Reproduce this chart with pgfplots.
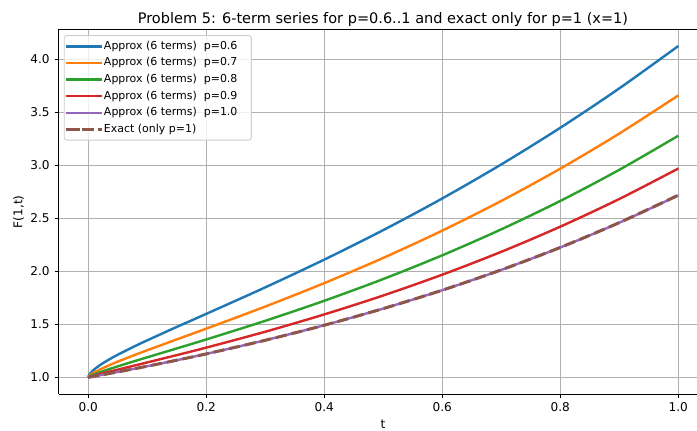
\documentclass[border=0pt]{standalone}
\usepackage{fontspec}
\setmainfont{DejaVu Sans}
\usepackage{pgfplots}
\pgfplotsset{compat=1.18}
\usepackage{pgfplotstable}
\definecolor{c0}{HTML}{1F77B4}
\definecolor{c1}{HTML}{FF7F0E}
\definecolor{c2}{HTML}{2CA02C}
\definecolor{c3}{HTML}{D62728}
\definecolor{c4}{HTML}{9467BD}
\definecolor{c5}{HTML}{8C564B}
\definecolor{gridc}{HTML}{B0B0B0}
\definecolor{legc}{HTML}{CCCCCC}

\pgfplotstableread{
t F
0 1
0.001 1.01797
0.003 1.03516
0.006 1.05399
0.01 1.07438
0.02 1.11588
0.035 1.16753
0.05 1.21339
0.075 1.28348
0.1 1.34935
0.15 1.47542
0.2 1.59897
0.3 1.84892
0.4 2.11060
0.5 2.38911
0.6 2.68768
0.7 3.00870
0.8 3.35417
0.9 3.72585
1.0 4.12546
}\pa
\pgfplotstableread{
t F
0 1
0.001 1.00879
0.003 1.01910
0.006 1.03128
0.01 1.04512
0.02 1.07467
0.035 1.11309
0.05 1.14821
0.075 1.20309
0.1 1.25562
0.15 1.35783
0.2 1.45945
0.3 1.66790
0.4 1.88898
0.5 2.12684
0.6 2.38445
0.7 2.66428
0.8 2.96865
0.9 3.29968
1.0 3.65962
}\pb
\pgfplotstableread{
t F
0 1
0.001 1.00429
0.003 1.01036
0.006 1.01812
0.01 1.02742
0.02 1.04832
0.035 1.07686
0.05 1.10379
0.075 1.14698
0.1 1.18916
0.15 1.27284
0.2 1.35740
0.3 1.53342
0.4 1.72245
0.5 1.92760
0.6 2.15139
0.7 2.39616
0.8 2.66416
0.9 2.95772
1.0 3.27920
}\pc
\pgfplotstableread{
t F
0 1
0.001 1.00208
0.003 1.00559
0.006 1.01047
0.01 1.01663
0.02 1.03128
0.035 1.05234
0.05 1.07294
0.075 1.10690
0.1 1.14085
0.15 1.20967
0.2 1.28053
0.3 1.43049
0.4 1.59371
0.5 1.77239
0.6 1.96854
0.7 2.18420
0.8 2.42147
0.9 2.68256
1.0 2.96976
}\pd
\pgfplotstableread{
t F
0 1
0.05 1.05127
0.1 1.10517
0.15 1.16183
0.2 1.22140
0.3 1.34986
0.4 1.49182
0.5 1.64870
0.6 1.82205
0.7 2.01357
0.8 2.22513
0.9 2.45876
1.0 2.71667
}\pe
\pgfplotstableread{
t F
0 1
0.05 1.05127
0.1 1.10517
0.15 1.16183
0.2 1.22140
0.3 1.34986
0.4 1.49182
0.5 1.64872
0.6 1.82212
0.7 2.01375
0.8 2.22554
0.9 2.45960
1.0 2.71828
}\pex

\begin{document}
\begin{tikzpicture}
\begin{axis}[
  name=ax,
  scale only axis,
  width=459.5pt, height=262.4pt,
  xmin=-0.05, xmax=1.0317,
  ymin=0.84373, ymax=4.28173,
  axis x line*=box, axis y line*=left,
  axis line style={line width=0.6pt, black},
  xtick pos=left, ytick pos=left,
  tick align=outside,
  major tick length=3pt,
  tick style={line width=0.6pt, black},
  xtick={0,0.2,0.4,0.6,0.8,1.0},
  ytick={1.0,1.5,2.0,2.5,3.0,3.5,4.0},
  /pgf/number format/assume math mode=true,
  xticklabel style={/pgf/number format/.cd, fixed, fixed zerofill, precision=1, /tikz/.cd},
  yticklabel style={/pgf/number format/.cd, fixed, fixed zerofill, precision=1, /tikz/.cd},
  every tick label/.append style={font=\fontsize{8.7}{10}\selectfont},
  grid=major,
  major grid style={line width=0.6pt, gridc},
  title={Problem 5: 6-term series for p=0.6..1 and exact only for p=1 (x=1)},
  every axis title/.style={at={(axis description cs:0.508,1)}, anchor=base, yshift=4.3pt, font=\fontsize{10.45}{12}\selectfont},
  xlabel={t}, ylabel={F(1,t)},
  every axis x label/.style={at={(axis description cs:0.508,0)}, anchor=base, yshift=-24.6pt, font=\fontsize{8.7}{10}\selectfont},
  every axis y label/.style={at={([xshift=-29.0pt]axis description cs:0,0.5)}, rotate=90, anchor=center, font=\fontsize{8.7}{10}\selectfont},
  legend cell align=left,
  legend image code/.code={\path (0pt,0pt) -- (26.5pt,0pt); \draw[#1, line cap=butt] (2.45pt,0pt) -- (20.45pt,0pt);},
  legend style={at={(axis description cs:0,1)}, anchor=north west, xshift=3.6pt, yshift=-4.1pt,
    draw=legc, line width=0.6pt, rounded corners=2pt, fill=white, fill opacity=0.8, text opacity=1, draw opacity=1,
    font=\fontsize{7.9}{9.5}\selectfont, inner xsep=0pt, inner ysep=1.8pt, row sep=0pt, column sep=0pt,
    nodes={inner xsep=0pt, inner ysep=2pt, text height=6.15pt, text depth=1.8pt}},
]
\addplot[c0, line width=1.74pt, line join=round, smooth] table {\pa};
\addlegendentry{Approx (6 terms)\ \ p=0.6\hspace*{10pt}}
\addplot[c1, line width=1.74pt, line join=round, smooth] table {\pb};
\addlegendentry{Approx (6 terms)\ \ p=0.7\hspace*{10pt}}
\addplot[c2, line width=1.74pt, line join=round, smooth] table {\pc};
\addlegendentry{Approx (6 terms)\ \ p=0.8\hspace*{10pt}}
\addplot[c3, line width=1.74pt, line join=round, smooth] table {\pd};
\addlegendentry{Approx (6 terms)\ \ p=0.9\hspace*{10pt}}
\addplot[c4, line width=1.74pt, line join=round, smooth] table {\pe};
\addlegendentry{Approx (6 terms)\ \ p=1.0\hspace*{10pt}}
\addplot[c5, line width=2.17pt, line join=round, smooth, dash pattern=on 8pt off 3.5pt] table {\pex};
\addlegendentry{Exact (only p=1)}
\end{axis}
\pgfresetboundingbox
\path[use as bounding box] ([xshift=-42.3pt, yshift=-26pt]ax.south west) rectangle ([yshift=21.2pt]ax.north east);
\end{tikzpicture}
\end{document}
